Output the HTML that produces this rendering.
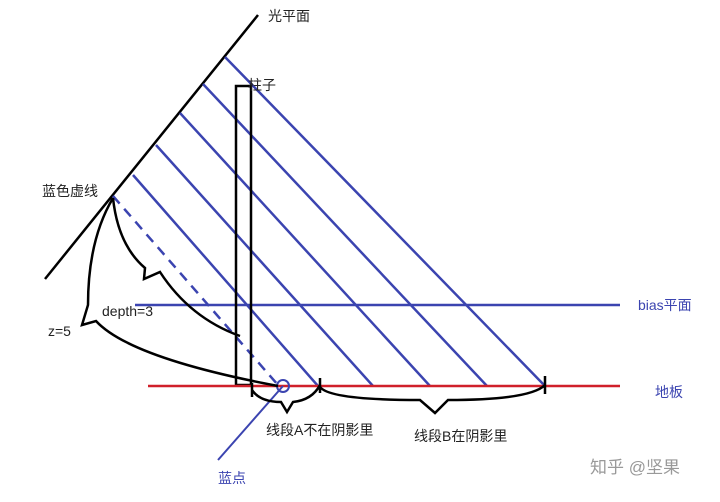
<!DOCTYPE html>
<html><head><meta charset="utf-8"><style>
html,body{margin:0;padding:0;background:#fff;}
svg{display:block;}
text{font-family:"Liberation Sans","Noto Sans CJK SC",sans-serif;font-size:14px;fill:#222;}
</style></head><body>
<svg width="720" height="502" viewBox="0 0 720 502">
<line x1="45" y1="279" x2="258" y2="15" stroke="#000" stroke-width="2.5"/>
<text x="268" y="21">光平面</text>
<g stroke="#3b44b0" stroke-width="2.5">
<line x1="113" y1="196" x2="278" y2="385" stroke-dasharray="10,7"/>
<line x1="133" y1="175" x2="318" y2="386"/>
<line x1="156" y1="145" x2="373" y2="386"/>
<line x1="180" y1="113" x2="430" y2="386"/>
<line x1="203" y1="84" x2="487" y2="386"/>
<line x1="225" y1="57" x2="545" y2="386"/>
</g>
<line x1="135" y1="305" x2="620" y2="305" stroke="#3b44b0" stroke-width="2.5"/>
<text x="638" y="310" style="fill:#3b44b0">bias平面</text>
<rect x="236" y="86" width="15" height="299" fill="none" stroke="#000" stroke-width="2.5"/>
<text x="248" y="90">柱子</text>
<line x1="148" y1="386" x2="620" y2="386" stroke="#d0202a" stroke-width="2.5"/>
<text x="655" y="397" style="fill:#3b44b0">地板</text>
<circle cx="283" cy="386" r="6" fill="none" stroke="#3b44b0" stroke-width="2"/>
<line x1="283" y1="386" x2="218" y2="460" stroke="#3b44b0" stroke-width="2"/>
<text x="218" y="483" style="fill:#3b44b0">蓝点</text>
<g fill="none" stroke="#000" stroke-width="2.5">
<path d="M113,198 Q118,245 145,268 L144,279 L160,272 Q190,318 240,336"/>
<path d="M113,198 Q88,240 88,305 L82,325 L96,321 Q130,358 278,386"/>
<path d="M252,383 L252,397 M252,390 Q260,402 281,402 L287,412 L293,402 Q312,400 320,385 M320,378 L320,393"/>
<path d="M320,387 Q330,400 420,400 L435,413 L448,400 Q530,400 545,385 M545,376 L545,394"/>
</g>
<text x="42" y="196">蓝色虚线</text>
<text x="102" y="316">depth=3</text>
<text x="48" y="336">z=5</text>
<text x="266" y="435">线段A不在阴影里</text>
<text x="414" y="441">线段B在阴影里</text>
<text x="590" y="473" style="fill:#999;font-size:17px">知乎 @坚果</text>
</svg>
</body></html>
